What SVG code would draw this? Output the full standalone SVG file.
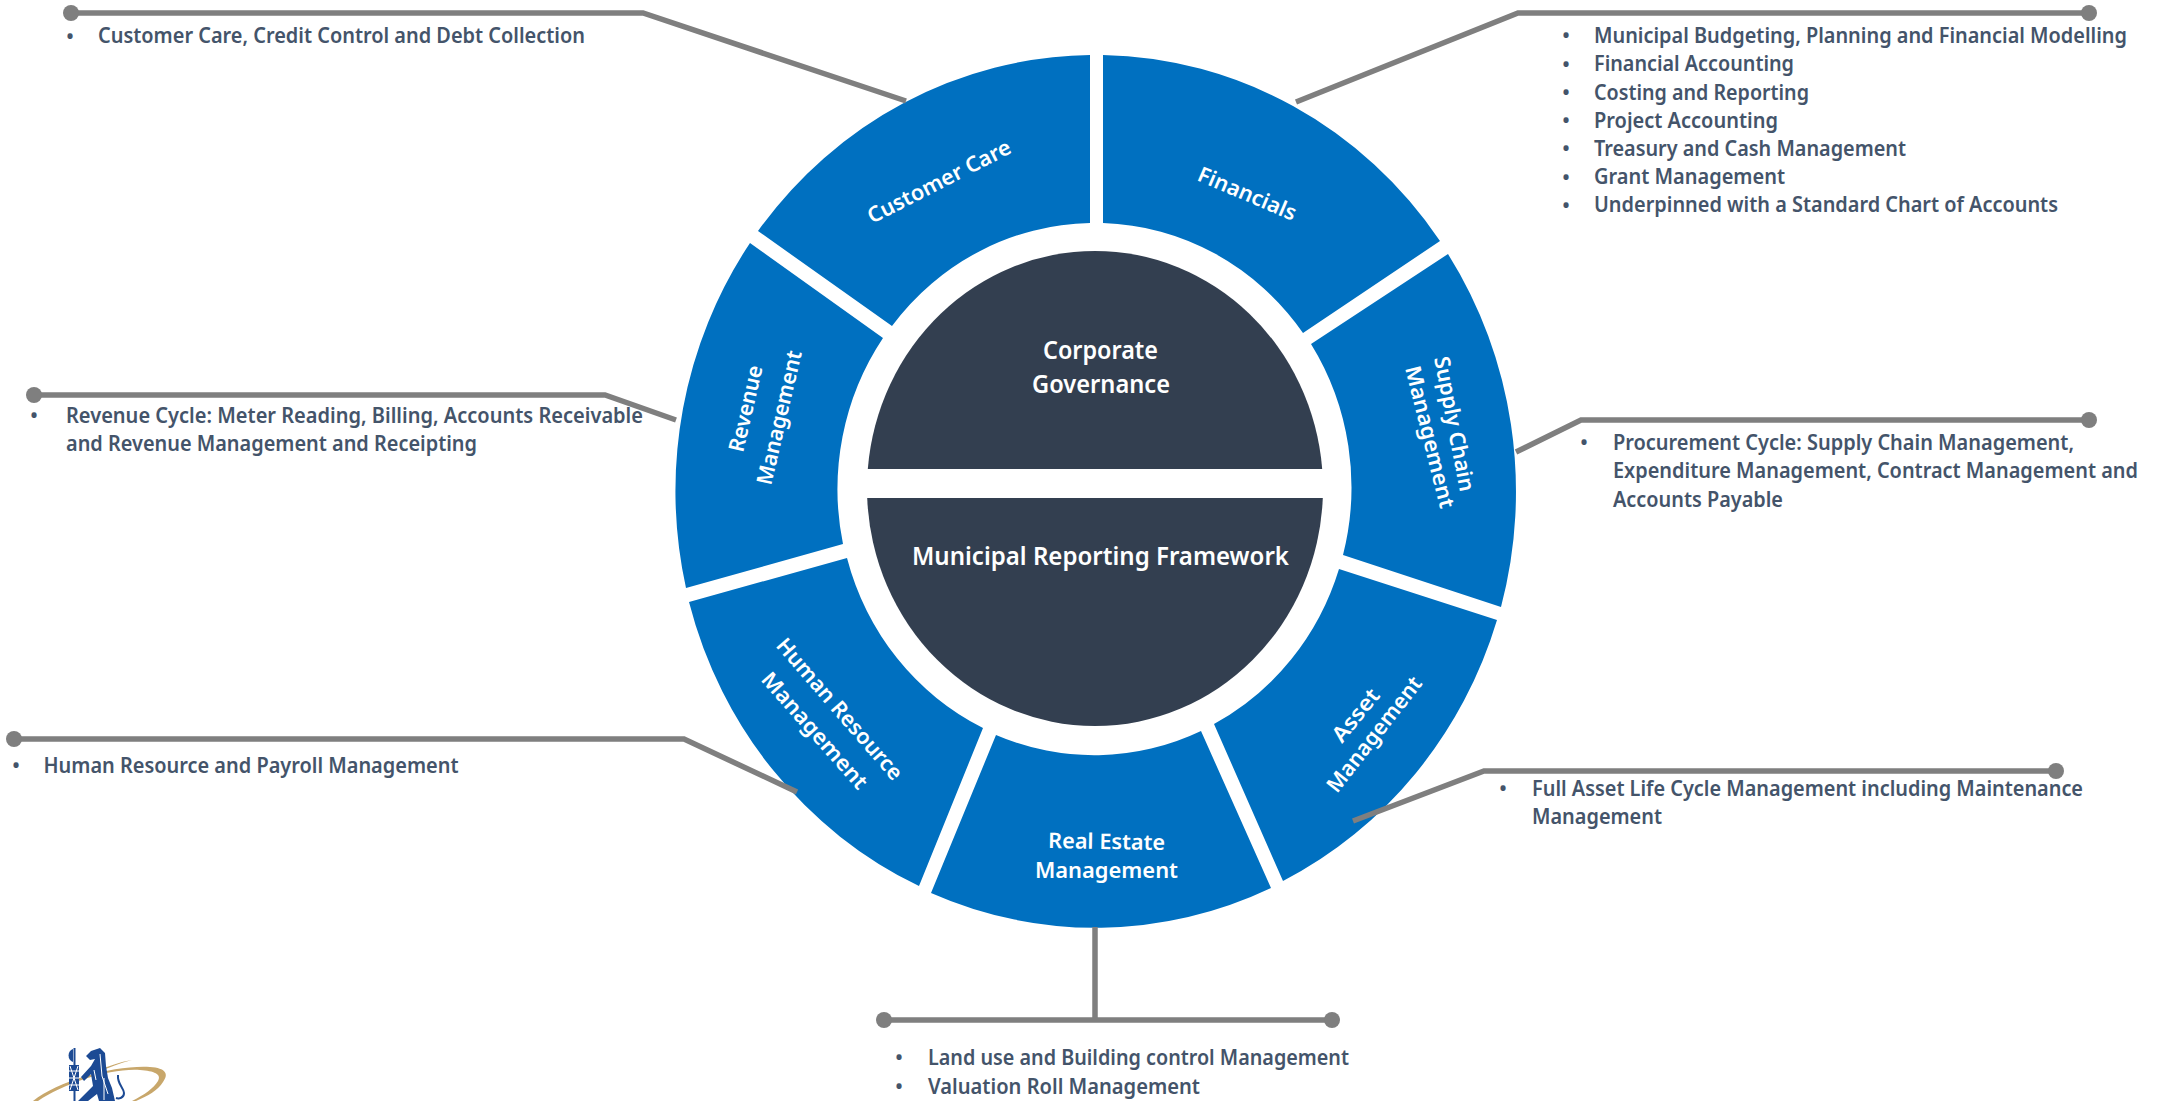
<svg xmlns="http://www.w3.org/2000/svg" width="2163" height="1101" viewBox="0 0 2163 1101">
<style>
text{font-family:"Noto Sans","Open Sans","Liberation Sans",sans-serif}
.seg{fill:#0070C0}
.core{fill:#333F50}
.l{fill:none;stroke:#7F7F7F;stroke-width:5.5;stroke-linejoin:miter}
.d{fill:#7F7F7F}
.t{fill:#44546A;font-size:21.5px;font-weight:600}
.b{fill:#44546A;font-size:20px;font-weight:600;text-anchor:middle}
.w{fill:#fff;font-size:21.5px;font-weight:600}
.c{fill:#fff;font-size:25.5px;font-weight:600}
</style>
<rect width="2163" height="1101" fill="#fff"/>
<g id="seg-customer-care"><path class="seg" d="M1090 55A420.5 436 0 0 0 758 231L892 326A256 265.5 0 0 1 1090 223Z"/><text class="w" transform="translate(872 224) rotate(-27)" textLength="158" lengthAdjust="spacingAndGlyphs">Customer Care</text></g>
<g id="seg-financials"><path class="seg" d="M1103 55A420.5 436 0 0 1 1440 241L1303 333A256 265.5 0 0 0 1103 223Z"/><text class="w" transform="translate(1196 180) rotate(23)" textLength="105" lengthAdjust="spacingAndGlyphs">Financials</text></g>
<g id="seg-supply-chain"><path class="seg" d="M1448 254A420.5 436 0 0 1 1501 607L1343 555A256 265.5 0 0 0 1311 344Z"/><text class="w" transform="translate(1434 358) rotate(79)" textLength="137" lengthAdjust="spacingAndGlyphs">Supply Chain</text><text class="w" transform="translate(1405 368) rotate(76)" textLength="146" lengthAdjust="spacingAndGlyphs">Management</text></g>
<g id="seg-asset"><path class="seg" d="M1339 569L1497 620A420.5 436 0 0 1 1283 881L1214 724A256 265.5 0 0 0 1339 569Z"/><text class="w" transform="translate(1342 744) rotate(-51)" textLength="62" lengthAdjust="spacingAndGlyphs">Asset</text><text class="w" transform="translate(1337 794) rotate(-52)" textLength="140" lengthAdjust="spacingAndGlyphs">Management</text></g>
<g id="seg-real-estate"><path class="seg" d="M1201 731L1271 888A420.5 436 0 0 1 931 893L996 735A256 265.5 0 0 0 1201 731Z"/><text class="w" transform="translate(1048 848) rotate(1)" textLength="117" lengthAdjust="spacingAndGlyphs">Real Estate</text><text class="w" x="1035" y="878" textLength="143" lengthAdjust="spacingAndGlyphs">Management</text></g>
<g id="seg-hr"><path class="seg" d="M983 728L919 886A420.5 436 0 0 1 689 602L847 558A256 265.5 0 0 0 983 728Z"/><text class="w" transform="translate(775 646) rotate(49)" textLength="180" lengthAdjust="spacingAndGlyphs">Human Resource</text><text class="w" transform="translate(760 680) rotate(48.5)" textLength="148" lengthAdjust="spacingAndGlyphs">Management</text></g>
<g id="seg-revenue"><path class="seg" d="M843 544L686 588A420.5 436 0 0 1 750 243L883 338A256 265.5 0 0 0 843 544Z"/><text class="w" transform="translate(743 453) rotate(-77)" textLength="88" lengthAdjust="spacingAndGlyphs">Revenue</text><text class="w" transform="translate(771 486) rotate(-77)" textLength="137" lengthAdjust="spacingAndGlyphs">Management</text></g>
<g id="core-governance"><path class="core" d="M867.800 469A228 238 0 0 1 1322.200 469Z"/><text class="c" x="1043" y="359" textLength="115" lengthAdjust="spacingAndGlyphs">Corporate</text><text class="c" x="1032" y="393" textLength="138" lengthAdjust="spacingAndGlyphs">Governance</text></g>
<g id="core-reporting"><path class="core" d="M867.200 498H1322.800A228 238 0 0 1 867.200 498Z"/><text class="c" x="912" y="565" textLength="377" lengthAdjust="spacingAndGlyphs">Municipal Reporting Framework</text></g>
<g id="connectors">
<path class="l" d="M71 13H643L906 101"/><circle class="d" cx="71" cy="13" r="8"/>
<path class="l" d="M2089 13H1518L1296 102"/><circle class="d" cx="2089" cy="13" r="8"/>
<path class="l" d="M34 395H605L676 420"/><circle class="d" cx="34" cy="395" r="8"/>
<path class="l" d="M2089 420H1581L1516 452"/><circle class="d" cx="2089" cy="420" r="8"/>
<path class="l" d="M14 739H684L797 792"/><circle class="d" cx="14" cy="739" r="8"/>
<path class="l" d="M2056 771H1484L1353 821"/><circle class="d" cx="2056" cy="771" r="8"/>
<path class="l" d="M1095 927V1022M884 1020H1331"/><circle class="d" cx="884" cy="1020" r="8"/><circle class="d" cx="1332" cy="1020" r="8"/>
</g>
<g id="text-customer"><text class="b" x="70" y="43">•</text><text class="t" x="98" y="43" textLength="487" lengthAdjust="spacingAndGlyphs">Customer Care, Credit Control and Debt Collection</text></g>
<g id="text-financials">
<text class="b" x="1566" y="42">•</text><text class="t" x="1594" y="43" textLength="533" lengthAdjust="spacingAndGlyphs">Municipal Budgeting, Planning and Financial Modelling</text>
<text class="b" x="1566" y="71">•</text><text class="t" x="1594" y="71" textLength="200" lengthAdjust="spacingAndGlyphs">Financial Accounting</text>
<text class="b" x="1566" y="99">•</text><text class="t" x="1594" y="100" textLength="215" lengthAdjust="spacingAndGlyphs">Costing and Reporting</text>
<text class="b" x="1566" y="127">•</text><text class="t" x="1594" y="128" textLength="184" lengthAdjust="spacingAndGlyphs">Project Accounting</text>
<text class="b" x="1566" y="155">•</text><text class="t" x="1594" y="156" textLength="312" lengthAdjust="spacingAndGlyphs">Treasury and Cash Management</text>
<text class="b" x="1566" y="184">•</text><text class="t" x="1594" y="184" textLength="191" lengthAdjust="spacingAndGlyphs">Grant Management</text>
<text class="b" x="1566" y="212">•</text><text class="t" x="1594" y="212" textLength="464" lengthAdjust="spacingAndGlyphs">Underpinned with a Standard Chart of Accounts</text>
</g>
<g id="text-revenue"><text class="b" x="34" y="422">•</text><text class="t" x="66" y="423" textLength="577" lengthAdjust="spacingAndGlyphs">Revenue Cycle: Meter Reading, Billing, Accounts Receivable</text><text class="t" x="66" y="451" textLength="411" lengthAdjust="spacingAndGlyphs">and Revenue Management and Receipting</text></g>
<g id="text-supply"><text class="b" x="1584" y="449">•</text><text class="t" x="1613" y="450" textLength="461" lengthAdjust="spacingAndGlyphs">Procurement Cycle: Supply Chain Management,</text><text class="t" x="1613" y="478" textLength="525" lengthAdjust="spacingAndGlyphs">Expenditure Management, Contract Management and</text><text class="t" x="1613" y="507" textLength="170" lengthAdjust="spacingAndGlyphs">Accounts Payable</text></g>
<g id="text-hr"><text class="b" x="16" y="772">•</text><text class="t" x="43.500" y="773" textLength="415" lengthAdjust="spacingAndGlyphs">Human Resource and Payroll Management</text></g>
<g id="text-asset"><text class="b" x="1503" y="795">•</text><text class="t" x="1532" y="796" textLength="551" lengthAdjust="spacingAndGlyphs">Full Asset Life Cycle Management including Maintenance</text><text class="t" x="1532" y="824" textLength="130" lengthAdjust="spacingAndGlyphs">Management</text></g>
<g id="text-real-estate"><text class="b" x="899" y="1064">•</text><text class="t" x="928" y="1065" textLength="421" lengthAdjust="spacingAndGlyphs">Land use and Building control Management</text><text class="b" x="899" y="1093">•</text><text class="t" x="928" y="1094" textLength="272" lengthAdjust="spacingAndGlyphs">Valuation Roll Management</text></g>
<g id="logo">
<path fill="#C8A76B" d="M33 1101C60 1080 115 1065 150 1067C166 1068 169 1074 163 1082C158 1090 148 1096 136 1101L132 1101C144 1095 154 1088 158 1081C162 1074 154 1071 140 1070C110 1068 65 1083 38 1101Z"/>
<path fill="#C8A76B" d="M97 1071C108 1066 120 1062 132 1060C120 1063 109 1067 98 1073Z"/>
<g fill="#1C4A94">
<rect x="73.500" y="1048" width="2" height="53"/>
<path d="M73 1049A7 7 0 0 0 73 1062Z"/>
<rect x="69" y="1065" width="10" height="26"/>
<path d="M86 1056L91 1051L100 1048L105 1053L106 1066L108 1078L112 1088L115 1101H99L97 1094L88 1101H78L93 1086L91 1074L84 1081L81 1077L91 1066L95 1059L90 1060Z"/>
</g>
<path fill="none" stroke="#1C4A94" stroke-width="2" d="M118 1075C117 1084 124 1088 124 1093C124 1098 119 1099 116 1098"/>
<path fill="none" stroke="#fff" stroke-width="1" d="M69 1071H79M69 1078H79M69 1085H79M70 1066L78 1090M78 1066L70 1090M100 1054L102 1076L108 1094M104 1078L104 1100M96 1080L94 1070"/>
</g>
</svg>
